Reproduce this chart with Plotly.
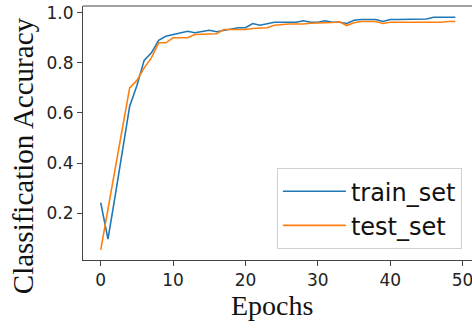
import plotly.graph_objects as go

epochs = list(range(50))
train_set = [0.242, 0.096, 0.27, 0.45, 0.627, 0.71, 0.81, 0.84, 0.89, 0.906,
             0.913, 0.917, 0.926, 0.92, 0.925, 0.93, 0.924, 0.93, 0.936, 0.94,
             0.94, 0.957, 0.95, 0.957, 0.962, 0.962, 0.962, 0.962, 0.968, 0.962,
             0.962, 0.968, 0.962, 0.962, 0.957, 0.970, 0.973, 0.973, 0.973, 0.965,
             0.973, 0.973, 0.973, 0.973, 0.973, 0.975, 0.982, 0.982, 0.982, 0.982]
test_set = [0.053, 0.21, 0.38, 0.54, 0.70, 0.73, 0.78, 0.82, 0.88, 0.88,
            0.90, 0.90, 0.90, 0.913, 0.915, 0.915, 0.916, 0.933, 0.933, 0.933,
            0.933, 0.937, 0.94, 0.94, 0.95, 0.953, 0.955, 0.955, 0.955, 0.958,
            0.958, 0.958, 0.961, 0.964, 0.949, 0.96, 0.965, 0.965, 0.965, 0.957,
            0.962, 0.962, 0.962, 0.962, 0.962, 0.96, 0.96, 0.962, 0.965, 0.965]
x_ticks = [0, 10, 20, 30, 40, 50]
y_ticks = [0.2, 0.4, 0.6, 0.8, 1.0]

fig = go.Figure()
fig.add_trace(go.Scatter(x=epochs, y=train_set, mode="lines", name="train_set",
                         line=dict(color="#1f77b4", width=1.6)))
fig.add_trace(go.Scatter(x=epochs, y=test_set, mode="lines", name="test_set",
                         line=dict(color="#ff7f0e", width=1.6)))

tickfont = dict(family="DejaVu Sans", size=17, color="#222")
serif = dict(family="Liberation Serif", color="#111")
fig.update_layout(
    width=472, height=332,
    margin=dict(l=83, r=0, t=6, b=72),
    plot_bgcolor="white", paper_bgcolor="white",
    showlegend=True,
    legend=dict(x=0.974, y=0.043, xanchor="right", yanchor="bottom",
                bgcolor="white", bordercolor="#d0d0d0", borderwidth=1,
                font=dict(family="DejaVu Sans", size=24, color="#111"),
                itemwidth=63),
    xaxis=dict(range=[-2.45, 51.3], tickvals=x_ticks, ticks="outside", ticklen=5,
               tickcolor="#444", showline=True, linecolor="#444", linewidth=1,
               showgrid=False, zeroline=False, tickfont=tickfont,
               ticklabeloverflow="allow"),
    yaxis=dict(range=[0.013, 1.027], tickvals=y_ticks, tickformat=".1f", ticks="outside",
               ticklen=5, tickcolor="#444", showline=True, linecolor="#444", linewidth=1,
               showgrid=False, zeroline=False, tickfont=tickfont),
    shapes=[dict(type="line", xref="paper", yref="paper", x0=0, x1=1, y0=1, y1=1,
                 line=dict(color="#444", width=1))],
    annotations=[
        dict(text="Classification Accuracy", xref="paper", yref="paper",
             x=-0.154, y=0.409, xanchor="center", yanchor="middle", textangle=-90,
             showarrow=False, font=dict(size=29, **serif)),
        dict(text="Epochs", xref="paper", yref="paper",
             x=(271.5 - 83) / 389, y=-(305 - 260) / 254, xanchor="center", yanchor="middle",
             showarrow=False, font=dict(size=28, **serif)),
    ],
)

fig.write_html("out.html")
